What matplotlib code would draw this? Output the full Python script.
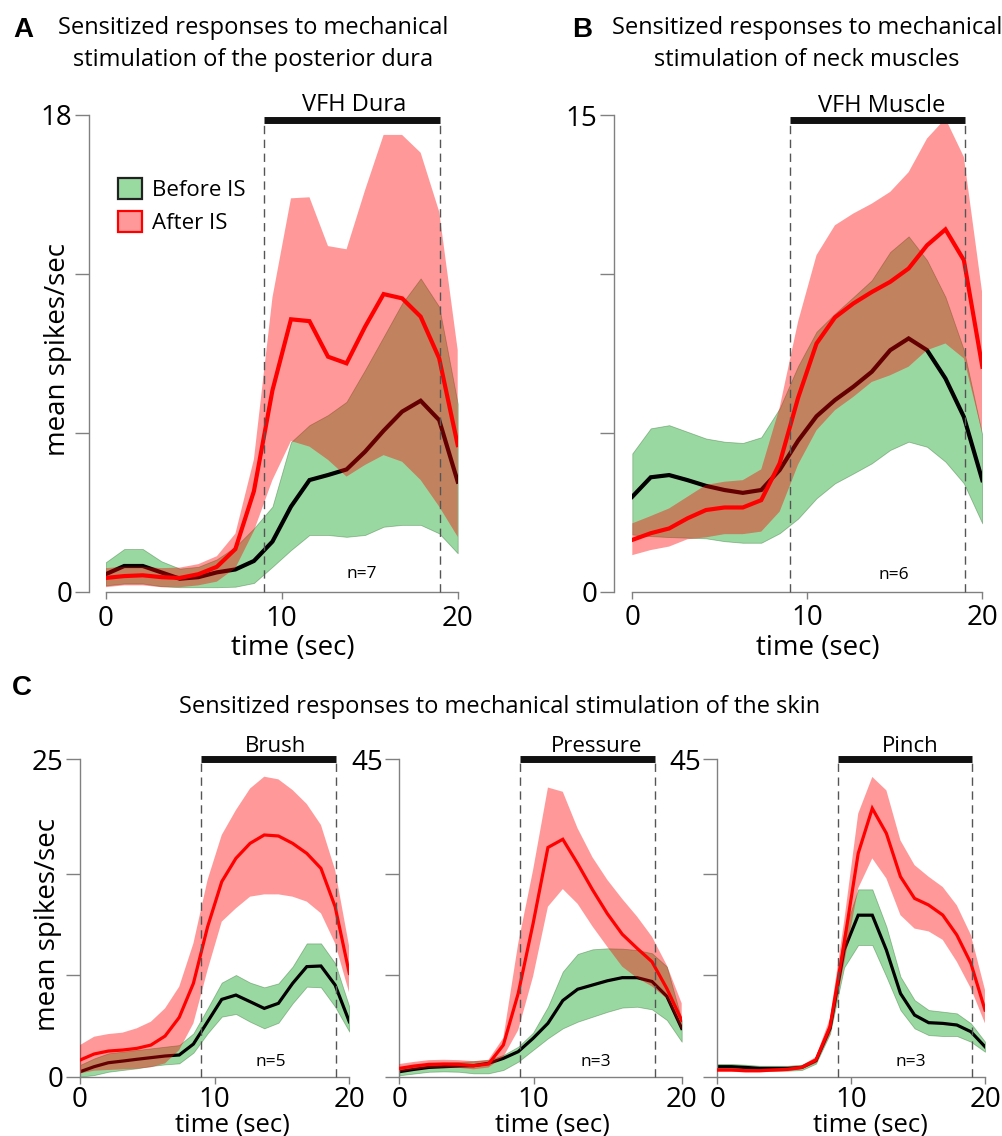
import numpy as np
import matplotlib
matplotlib.use("Agg")
import matplotlib.pyplot as plt
from matplotlib.patches import Patch

plt.rcParams['font.family'] = ['Open Sans', 'DejaVu Sans']

# ---------------- data ----------------
t20 = np.linspace(0, 20, 20)
t21 = np.linspace(0, 21, 20)   # panel C "Pressure" axis runs to 21 (labelled 20)

# Panel A - posterior dura (VFH Dura)
A_before_mean = [0.67, 0.98, 0.98, 0.74, 0.5, 0.56, 0.74, 0.85, 1.17, 1.9, 3.22, 4.22, 4.41, 4.62, 5.29, 6.08, 6.8, 7.21, 6.48, 4.16]
A_before_hi = [1.12, 1.62, 1.62, 1.16, 0.88, 0.95, 1.23, 1.7, 2.4, 3.22, 5.65, 6.29, 6.67, 7.17, 8.37, 9.62, 10.88, 11.82, 10.75, 7.1]
A_before_lo = [0.25, 0.32, 0.32, 0.22, 0.18, 0.18, 0.18, 0.2, 0.34, 0.95, 1.58, 2.15, 2.15, 2.08, 2.15, 2.46, 2.53, 2.53, 2.21, 1.46]
A_after_mean = [0.53, 0.6, 0.63, 0.56, 0.53, 0.67, 0.95, 1.62, 3.8, 7.6, 10.28, 10.21, 8.87, 8.62, 10.0, 11.23, 11.07, 10.38, 8.81, 5.54]
A_after_hi = [0.9, 0.95, 0.95, 0.9, 0.92, 1.05, 1.35, 2.2, 5.0, 11.1, 14.84, 14.88, 13.04, 12.92, 15.15, 17.23, 17.23, 16.56, 14.34, 9.12]
A_after_lo = [0.18, 0.25, 0.25, 0.18, 0.18, 0.25, 0.39, 0.9, 2.3, 4.22, 5.69, 5.48, 4.98, 4.35, 4.79, 5.16, 4.91, 4.22, 3.22, 2.08]

# Panel B - neck muscles (VFH Muscle)
B_before_mean = [2.99, 3.6, 3.67, 3.51, 3.33, 3.2, 3.11, 3.2, 3.83, 4.75, 5.52, 6.03, 6.45, 6.92, 7.6, 7.97, 7.6, 6.71, 5.5, 3.51]
B_before_hi = [4.35, 5.14, 5.24, 5.03, 4.82, 4.72, 4.68, 4.86, 5.77, 7.1, 8.18, 8.75, 9.27, 9.8, 10.69, 11.18, 10.43, 9.27, 7.6, 4.93]
B_before_lo = [1.8, 1.75, 1.72, 1.7, 1.68, 1.59, 1.54, 1.54, 1.84, 2.3, 2.94, 3.41, 3.72, 4.04, 4.46, 4.72, 4.56, 4.09, 3.41, 2.15]
B_after_mean = [1.63, 1.84, 1.99, 2.31, 2.57, 2.65, 2.65, 2.88, 4.04, 6.1, 7.81, 8.63, 9.07, 9.43, 9.75, 10.17, 10.9, 11.4, 10.43, 7.08]
B_after_hi = [2.15, 2.38, 2.62, 2.99, 3.36, 3.46, 3.51, 3.85, 5.8, 8.5, 10.59, 11.53, 11.9, 12.21, 12.58, 13.2, 14.26, 14.89, 13.68, 9.38]
B_after_lo = [1.15, 1.31, 1.42, 1.65, 1.71, 1.81, 1.81, 1.89, 2.52, 4.0, 5.08, 5.71, 6.13, 6.6, 6.81, 7.08, 7.6, 7.81, 7.34, 4.98]

# Panel C1 - Brush
C1_before_mean = [0.39, 0.79, 1.1, 1.23, 1.37, 1.5, 1.63, 1.71, 2.57, 4.33, 6.09, 6.43, 5.91, 5.38, 5.78, 7.35, 8.67, 8.72, 7.22, 4.33]
C1_before_hi = [0.92, 1.44, 1.84, 1.97, 2.1, 2.23, 2.36, 2.49, 3.41, 5.38, 7.41, 8.01, 7.41, 7.04, 7.35, 8.67, 10.5, 10.5, 8.93, 5.51]
C1_before_lo = [0.0, 0.13, 0.39, 0.53, 0.66, 0.84, 0.97, 1.05, 1.89, 3.41, 4.73, 4.94, 4.33, 3.81, 4.25, 5.78, 7.09, 7.04, 5.51, 3.55]
C1_after_mean = [1.31, 1.79, 2.02, 2.1, 2.23, 2.49, 3.2, 4.67, 7.35, 11.8, 15.36, 17.2, 18.38, 19.04, 18.96, 18.38, 17.59, 16.41, 13.39, 8.14]
C1_after_hi = [2.49, 3.15, 3.36, 3.47, 3.81, 4.33, 5.38, 7.09, 10.5, 15.5, 19.04, 21.0, 22.7, 23.63, 23.42, 22.58, 21.48, 19.83, 16.28, 10.2]
C1_after_lo = [0.26, 0.47, 0.53, 0.58, 0.63, 0.74, 1.05, 2.1, 4.2, 8.4, 12.21, 13.26, 14.18, 14.36, 14.36, 14.18, 13.79, 12.87, 10.5, 6.57]

# Panel C2 - Pressure
C2_before_mean = [0.71, 1.04, 1.32, 1.42, 1.51, 1.56, 1.9, 2.6, 3.55, 5.44, 7.57, 10.8, 12.4, 13.0, 13.6, 14.04, 14.04, 13.5, 11.4, 6.85]
C2_before_hi = [1.3, 1.6, 1.9, 2.0, 2.1, 2.2, 2.37, 3.08, 4.25, 6.24, 9.92, 14.9, 17.4, 18.06, 18.2, 18.15, 17.96, 17.5, 15.6, 8.0]
C2_before_lo = [0.2, 0.45, 0.7, 0.75, 0.7, 0.48, 0.48, 0.95, 2.13, 3.79, 5.44, 6.86, 7.8, 8.5, 9.2, 9.8, 9.92, 9.55, 8.04, 4.96]
C2_after_mean = [1.18, 1.51, 1.75, 1.8, 1.75, 1.56, 1.8, 4.49, 11.8, 21.7, 32.5, 33.66, 30.2, 26.5, 23.1, 20.2, 18.2, 16.3, 12.5, 8.0]
C2_after_hi = [1.8, 2.1, 2.35, 2.4, 2.35, 2.2, 2.4, 5.5, 18.9, 29.3, 41.0, 40.4, 35.2, 31.1, 27.9, 25.2, 22.7, 19.85, 15.8, 10.4]
C2_after_lo = [0.7, 1.0, 1.25, 1.3, 1.25, 1.05, 1.3, 2.8, 6.6, 14.2, 24.1, 26.6, 24.5, 21.3, 18.4, 15.6, 14.0, 12.8, 11.1, 6.6]

# Panel C3 - Pinch
C3_before_mean = [1.42, 1.42, 1.32, 1.18, 1.18, 1.18, 1.32, 2.27, 6.85, 17.96, 22.9, 22.9, 17.96, 11.8, 8.74, 7.66, 7.56, 7.33, 6.38, 4.25]
C3_before_hi = [1.8, 1.8, 1.7, 1.55, 1.55, 1.55, 1.7, 2.7, 7.6, 20.5, 26.56, 26.56, 21.27, 14.18, 10.87, 9.45, 9.22, 8.98, 7.56, 4.96]
C3_before_lo = [1.05, 1.05, 0.95, 0.85, 0.85, 0.85, 0.95, 1.85, 6.1, 15.5, 18.67, 18.67, 14.18, 9.45, 6.85, 5.9, 5.77, 5.77, 4.96, 3.54]
C3_after_mean = [0.95, 0.95, 0.85, 0.85, 0.95, 1.04, 1.32, 2.36, 7.09, 18.9, 31.66, 38.04, 34.5, 28.36, 25.28, 24.34, 22.92, 20.09, 16.07, 9.45]
C3_after_hi = [1.2, 1.2, 1.1, 1.1, 1.2, 1.3, 1.6, 2.8, 8.3, 22.0, 37.3, 42.5, 40.6, 33.5, 30.0, 28.35, 26.9, 24.3, 20.1, 12.3]
C3_after_lo = [0.7, 0.7, 0.6, 0.6, 0.7, 0.8, 1.05, 1.9, 6.0, 16.0, 26.7, 30.95, 28.1, 22.9, 21.0, 20.6, 19.4, 16.3, 12.5, 7.56]

legend_labels = ["Before IS", "After IS"]
stim_labels = ["VFH Dura", "VFH Muscle", "Brush", "Pressure", "Pinch"]
n_labels = ["n=7", "n=6", "n=5", "n=3", "n=3"]
titles = ["Sensitized responses to mechanical\nstimulation of the posterior dura",
          "Sensitized responses to mechanical\nstimulation of neck muscles",
          "Sensitized responses to mechanical stimulation of the skin"]

# ---------------- styling ----------------
W, H = 1002, 1136
GREEN = (0.0, 0.63, 0.08)
RED = (1.0, 0.0, 0.0)
GREY = '#808080'

fig = plt.figure(figsize=(W / 100, H / 100), dpi=100)


def add_ax(x0, x1, ytop, ybot):
    return fig.add_axes([x0 / W, 1 - ybot / H, (x1 - x0) / W, (ybot - ytop) / H])


def draw(ax, t, gm, glo, ghi, rm, rlo, rhi, lw):
    ax.fill_between(t, glo, ghi, facecolor=GREEN, edgecolor=(0.15, 0.4, 0.15),
                    linewidth=0.6, alpha=0.4, zorder=1)
    ax.plot(t, gm, color='black', lw=lw, zorder=2, solid_joinstyle='miter')
    ax.fill_between(t, rlo, rhi, facecolor=RED, linewidth=0, alpha=0.4, zorder=3)
    ax.plot(t, rm, color=RED, lw=lw, zorder=4, solid_joinstyle='miter')


def style(ax, xmax, ymax, yticks, ylabels, xticks, xlabels, offset=0, xpad=3):
    ax.set_xlim(0, xmax)
    ax.set_ylim(0, ymax)
    ax.patch.set_visible(False)
    for s in ['top', 'right']:
        ax.spines[s].set_visible(False)
    for s in ['left', 'bottom']:
        ax.spines[s].set_color(GREY)
        ax.spines[s].set_linewidth(1.0)
    ax.spines['left'].set_bounds(0, ymax)
    ax.spines['bottom'].set_bounds(0, xmax)
    if offset:
        ax.spines['left'].set_position(('outward', offset))
    ax.set_yticks(yticks)
    ax.set_yticklabels(ylabels)
    ax.set_xticks(xticks)
    ax.set_xticklabels(xlabels)
    ax.tick_params(axis='y', length=10, width=1, color=GREY, labelsize=20, pad=2)
    ax.tick_params(axis='x', length=5, width=1, color=GREY, labelsize=20, pad=xpad)


def stim(ax, x0, x1, ybar, label, lx, fs, ly_off):
    ax.plot([x0, x1], [ybar, ybar], color='#111111', lw=5, solid_capstyle='butt',
            clip_on=False, zorder=6)
    for xv in (x0, x1):
        ax.plot([xv, xv], [0, ybar], color='#555555', lw=1.0, dashes=(6, 4),
                clip_on=False, zorder=5)
    ax.annotate(label, (lx, ybar), xytext=(0, ly_off), textcoords='offset points',
                ha='center', va='bottom', fontsize=fs, annotation_clip=False)


def xlabel(ax, x, y, fs=20):
    ax.set_xlabel("time (sec)", fontsize=fs)
    ax.xaxis.set_label_coords(x, y)
    ax.xaxis.label.set_va('center')


def ylabel(ax, x, y):
    ax.set_ylabel("mean spikes/sec", fontsize=20)
    ax.yaxis.set_label_coords(x, y)
    ax.yaxis.label.set_va('center')


# ---------- Panel A ----------
axA = add_ax(105.7, 457.7, 114.5, 592)
draw(axA, t20, A_before_mean, A_before_lo, A_before_hi, A_after_mean, A_after_lo, A_after_hi, 3.0)
style(axA, 20, 18, [0, 6, 12, 18], ['0', '', '', '18'], [0, 10, 20], ['0', '10', '20'], offset=12, xpad=4)
stim(axA, 9, 19, 17.8, stim_labels[0], 14.1, 17, 2)
axA.text(14.56, 0.68, n_labels[0], ha='center', va='center', fontsize=12.5)
xlabel(axA, 0.532, -0.118)
ylabel(axA, -0.135, 0.507)
handles = [Patch(facecolor=(0.6, 0.855, 0.63), edgecolor='#222222', linewidth=1.6),
           Patch(facecolor=(1.0, 0.6, 0.6), edgecolor=RED, linewidth=1.6)]
axA.legend(handles, legend_labels, loc='upper left', bbox_to_anchor=(118 / W, 1 - 178 / H),
           bbox_transform=fig.transFigure, frameon=False, fontsize=16, handlelength=1.1,
           handleheight=1.1, handletextpad=0.45, labelspacing=0.42, borderpad=0, borderaxespad=0)

# ---------- Panel B ----------
axB = add_ax(632.3, 982.3, 115, 591.7)
draw(axB, t20, B_before_mean, B_before_lo, B_before_hi, B_after_mean, B_after_lo, B_after_hi, 3.0)
style(axB, 20, 15, [0, 5, 10, 15], ['0', '', '', '15'], [0, 10, 20], ['0', '10', '20'], offset=13.2, xpad=4)
stim(axB, 9, 19, 14.83, stim_labels[1], 14.27, 17, 2)
axB.text(14.95, 0.53, n_labels[1], ha='center', va='center', fontsize=12.5)
xlabel(axB, 0.53, -0.118)

# ---------- Panel C ----------
yC_top, yC_bot = 759.3, 1076.7
axC1 = add_ax(80, 349.3, yC_top, yC_bot)
draw(axC1, t20, C1_before_mean, C1_before_lo, C1_before_hi, C1_after_mean, C1_after_lo, C1_after_hi, 2.3)
style(axC1, 20, 25, [0, 8, 16, 25], ['0', '', '', '25'], [0, 10, 20], ['0', '10', '20'], xpad=2)
stim(axC1, 9, 19, 25, stim_labels[2], 14.5, 16, 1.5)
axC1.text(14.19, 1.16, n_labels[2], ha='center', va='center', fontsize=12.5)
xlabel(axC1, 0.566, -0.153, fs=18.5)
ylabel(axC1, -0.119, 0.478)

axC2 = add_ax(399.3, 681.7, yC_top, yC_bot)
draw(axC2, t21, C2_before_mean, C2_before_lo, C2_before_hi, C2_after_mean, C2_after_lo, C2_after_hi, 2.3)
style(axC2, 21, 45, [0, 14.4, 28.8, 45], ['', '', '', '45'], [0, 10, 21], ['0', '10', '20'], xpad=2)
stim(axC2, 9, 19, 45, stim_labels[3], 14.67, 16, 1.5)
axC2.text(14.62, 2.08, n_labels[3], ha='center', va='center', fontsize=12.5)
xlabel(axC2, 0.5425, -0.153, fs=18.5)

axC3 = add_ax(717.3, 985, yC_top, yC_bot)
draw(axC3, t20, C3_before_mean, C3_before_lo, C3_before_hi, C3_after_mean, C3_after_lo, C3_after_hi, 2.3)
style(axC3, 20, 45, [0, 14.4, 28.8, 45], ['', '', '', '45'], [0, 10, 20], ['0', '10', '20'], xpad=2)
stim(axC3, 9, 19, 45, stim_labels[4], 14.45, 16, 1.5)
axC3.text(14.47, 2.08, n_labels[4], ha='center', va='center', fontsize=12.5)
xlabel(axC3, 0.572, -0.153, fs=18.5)

# ---------- panel letters & titles ----------
def ftext(x, y, s, **kw):
    fig.text(x / W, 1 - y / H, s, **kw)

ftext(23, 30, "A", fontsize=20, fontweight='bold', family='Liberation Sans', ha='center', va='center')
ftext(582, 30, "B", fontsize=20, fontweight='bold', family='Liberation Sans', ha='center', va='center')
ftext(22, 688, "C", fontsize=20, fontweight='bold', family='Liberation Sans', ha='center', va='center')
ftext(253, 44, titles[0], fontsize=17, ha='center', va='center', multialignment='center', linespacing=1.45)
ftext(807, 44, titles[1], fontsize=17, ha='center', va='center', multialignment='center', linespacing=1.45)
ftext(500, 707, titles[2], fontsize=17, ha='center', va='center')

fig.savefig("out.png", dpi=100)
